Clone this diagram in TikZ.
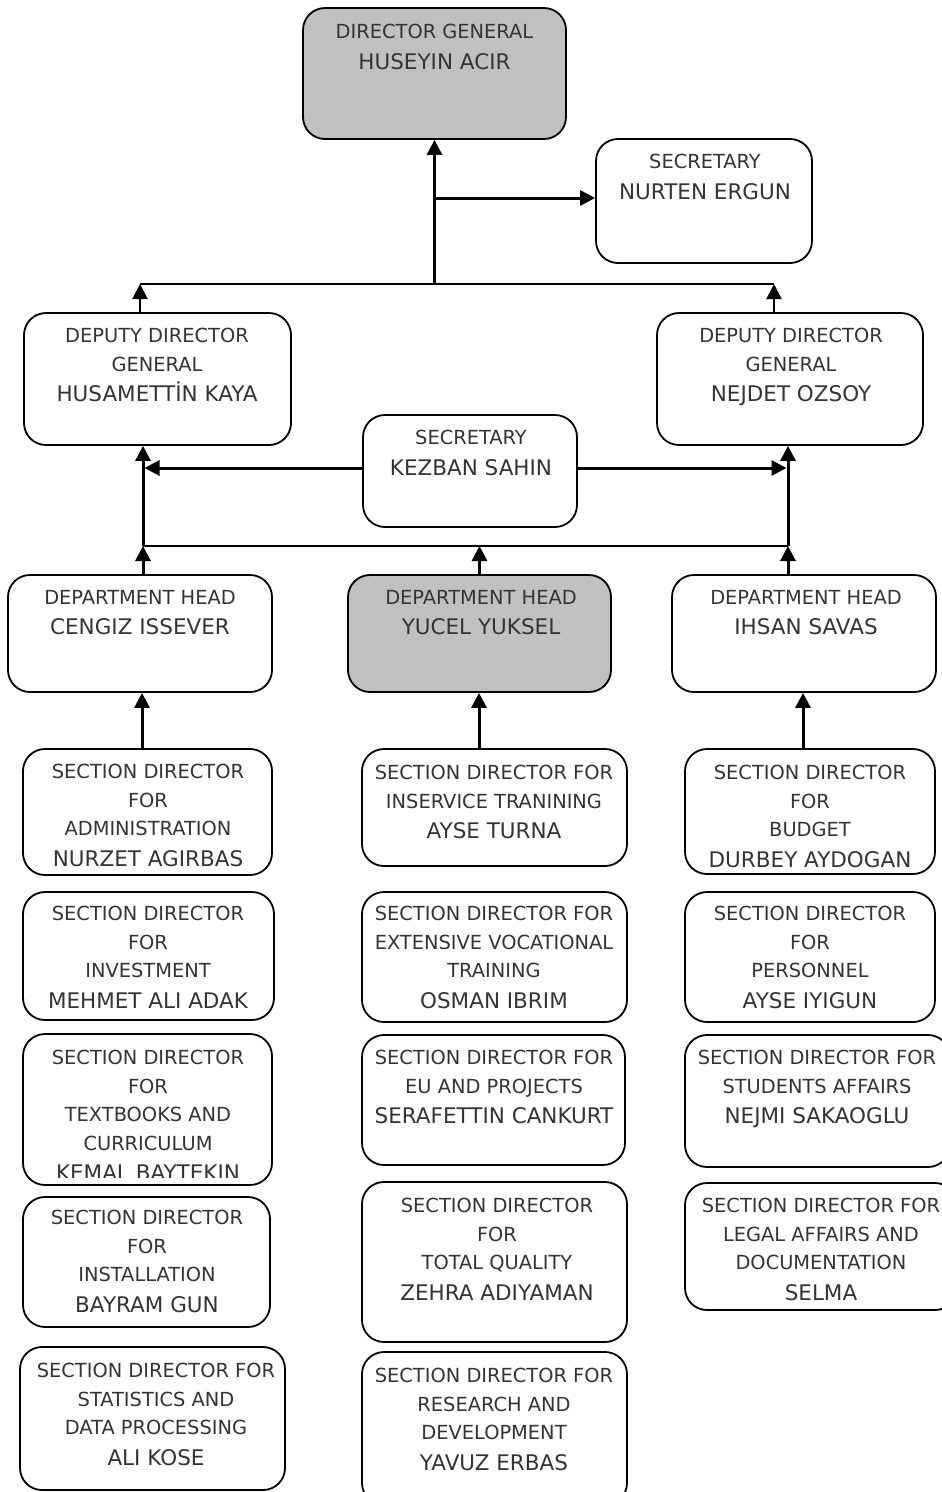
\documentclass[tikz,border=0pt]{standalone}
\usepackage{fontspec}
\setmainfont{DejaVu Sans}
\usetikzlibrary{arrows.meta}

\definecolor{boxgray}{RGB}{192,192,192}
\definecolor{inkgray}{RGB}{52,52,52}
\newcommand{\ttlfont}{\fontsize{19.4pt}{28.5pt}\selectfont}
\newcommand{\nmfont}{\fontsize{21.5pt}{28.5pt}\selectfont}
\newcommand{\nm}[1]{\\[2pt]{\nmfont #1}}

\tikzset{
  orgbox/.style={draw=black, line width=1.8pt, rounded corners=22pt, fill=white, inner sep=0pt},
  keybox/.style={orgbox, fill=boxgray},
  label/.style={anchor=north, inner sep=0pt, align=center, font=\ttlfont, text=inkgray},
  arrthick/.style={line width=3pt, -{Triangle[width=15pt,length=15pt]}},
  arrmid/.style={line width=2pt, -{Triangle[width=15pt,length=15pt]}},
  busline/.style={line width=2.5pt},
  busthin/.style={line width=1.6pt}
}

\begin{document}
\begin{tikzpicture}[x=1pt, y=-1pt]
\useasboundingbox (0,0) rectangle (942,1492);

% ---------- boxes ----------
\node[keybox, minimum width=263pt, minimum height=131pt] (dg)   at (434.5,73.5) {};
\node[orgbox, minimum width=216pt, minimum height=124pt] (sec1) at (704,201) {};
\node[orgbox, minimum width=267pt, minimum height=132pt] (depL) at (157.5,379) {};
\node[orgbox, minimum width=266pt, minimum height=132pt] (depR) at (790,379) {};
\node[orgbox, minimum width=214pt, minimum height=112pt] (sec2) at (470,471) {};
\node[orgbox, minimum width=264pt, minimum height=117pt] (dhL)  at (140,633.5) {};
\node[keybox, minimum width=263pt, minimum height=117pt] (dhM)  at (479.5,633.5) {};
\node[orgbox, minimum width=264pt, minimum height=117pt] (dhR)  at (804,633.5) {};

\node[orgbox, minimum width=249pt, minimum height=126pt] (L1) at (147.5,812) {};
\node[orgbox, minimum width=251pt, minimum height=128pt] (L2) at (148.5,956) {};
\node[orgbox, minimum width=249pt, minimum height=151pt] (L3) at (147.5,1109.5) {};
\node[orgbox, minimum width=247pt, minimum height=130pt] (L4) at (146.5,1262) {};
\node[orgbox, minimum width=265pt, minimum height=143pt] (L5) at (152.5,1418.5) {};

\node[orgbox, minimum width=265pt, minimum height=117pt] (M1) at (494.5,807.5) {};
\node[orgbox, minimum width=265pt, minimum height=130pt] (M2) at (494.5,957) {};
\node[orgbox, minimum width=263pt, minimum height=130pt] (M3) at (493.5,1100) {};
\node[orgbox, minimum width=265pt, minimum height=160pt] (M4) at (494.5,1262) {};
\node[orgbox, minimum width=265pt, minimum height=153pt] (M5) at (494.5,1428.5) {};

\node[orgbox, minimum width=250pt, minimum height=125pt] (R1) at (810,811.5) {};
\node[orgbox, minimum width=250pt, minimum height=130pt] (R2) at (810,957) {};
\node[orgbox, minimum width=265pt, minimum height=132pt] (R3) at (817.5,1101) {};
\node[orgbox, minimum width=272pt, minimum height=127pt] (R4) at (821,1246.5) {};

% ---------- texts ----------
\node[label] (tdg)   at (434.5,24) {DIRECTOR GENERAL\nm{HUSEYIN ACIR}};
\node[label] (tsec1) at (705,154) {SECRETARY\nm{NURTEN ERGUN}};
\node[label] (tdepL) at (157,328) {DEPUTY DIRECTOR\\GENERAL\nm{HUSAMETTİN KAYA}};
\node[label] (tdepR) at (791,328) {DEPUTY DIRECTOR\\GENERAL\nm{NEJDET OZSOY}};
\node[label] (tsec2) at (471,430) {SECRETARY\nm{KEZBAN SAHIN}};
\node[label] (tdhL)  at (140,590) {DEPARTMENT HEAD\nm{CENGIZ ISSEVER}};
\node[label] (tdhM)  at (481,590) {DEPARTMENT HEAD\nm{YUCEL YUKSEL}};
\node[label] (tdhR)  at (806,590) {DEPARTMENT HEAD\nm{IHSAN SAVAS}};

\node[label] (tL1) at (148,764) {SECTION DIRECTOR\\FOR\\ADMINISTRATION\nm{NURZET AGIRBAS}};
\node[label] (tL2) at (148,906) {SECTION DIRECTOR\\FOR\\INVESTMENT\nm{MEHMET ALI ADAK}};
\begin{scope}
  \clip (0,1030) rectangle (300,1177);
  \node[label] (tL3) at (148,1050) {SECTION DIRECTOR\\FOR\\TEXTBOOKS AND\\CURRICULUM\nm{KEMAL BAYTEKIN}};
\end{scope}
\node[label] (tL4) at (147,1210) {SECTION DIRECTOR\\FOR\\INSTALLATION\nm{BAYRAM GUN}};
\node[label] (tL5) at (156,1363) {SECTION DIRECTOR FOR\\STATISTICS AND\\DATA PROCESSING\nm{ALI KOSE}};

\node[label] (tM1) at (494,765) {SECTION DIRECTOR FOR\\INSERVICE TRANINING\nm{AYSE TURNA}};
\node[label] (tM2) at (494,906) {SECTION DIRECTOR FOR\\EXTENSIVE VOCATIONAL\\TRAINING\nm{OSMAN IBRIM}};
\node[label] (tM3) at (494,1050) {SECTION DIRECTOR FOR\\EU AND PROJECTS\nm{SERAFETTIN CANKURT}};
\node[label] (tM4) at (497,1198) {SECTION DIRECTOR\\FOR\\TOTAL QUALITY\nm{ZEHRA ADIYAMAN}};
\node[label] (tM5) at (494,1368) {SECTION DIRECTOR FOR\\RESEARCH AND\\DEVELOPMENT\nm{YAVUZ ERBAS}};

\node[label] (tR1) at (810,765) {SECTION DIRECTOR\\FOR\\BUDGET\nm{DURBEY AYDOGAN}};
\node[label] (tR2) at (810,906) {SECTION DIRECTOR\\FOR\\PERSONNEL\nm{AYSE IYIGUN}};
\node[label] (tR3) at (817,1050) {SECTION DIRECTOR FOR\\STUDENTS AFFAIRS\nm{NEJMI SAKAOGLU}};
\node[label] (tR4) at (821,1198) {SECTION DIRECTOR FOR\\LEGAL AFFAIRS AND\\DOCUMENTATION\nm{SELMA}};

% ---------- connector points ----------
\coordinate (tb)  at (434.5,284);
\coordinate (tbL) at (140,284);
\coordinate (tbR) at (774,284);
\coordinate (br)  at (434.5,198);
\coordinate (mbL) at (143,546);
\coordinate (mbM) at (479.5,546);
\coordinate (mbR) at (788,546);
\coordinate (sxL) at (142,0);
\coordinate (sxM) at (479,0);
\coordinate (sxR) at (803,0);

% ---------- top level ----------
\draw[busthin] (tbL) -- (tbR);
\draw[arrthick] (tb) -- (dg.south);
\draw[arrthick] (br) -- (br -| sec1.west);
\draw[arrmid] (tbL |- depL.north) -- (tbL);
\draw[arrmid] (tbR |- depR.north) -- (tbR);

% ---------- deputy level ----------
\draw[busline] (mbL) -- (mbR);
\draw[arrthick] (mbL) -- (mbL |- depL.south);
\draw[arrthick] (mbR) -- (mbR |- depR.south);
\draw[arrthick] ([yshift=3pt]sec2.west) -- ([xshift=1.5pt,yshift=3pt]sec2.west -| mbL);
\draw[arrthick] ([yshift=3pt]sec2.east) -- ([xshift=-1.5pt,yshift=3pt]sec2.east -| mbR);

% ---------- department heads ----------
\draw[arrthick] (mbL |- dhL.north) -- (mbL);
\draw[arrthick] (mbM |- dhM.north) -- (mbM);
\draw[arrthick] (mbR |- dhR.north) -- (mbR);

% ---------- sections ----------
\draw[arrthick] (sxL |- L1.north) -- (sxL |- dhL.south);
\draw[arrthick] (sxM |- M1.north) -- (sxM |- dhM.south);
\draw[arrthick] (sxR |- R1.north) -- (sxR |- dhR.south);
\end{tikzpicture}
\end{document}
